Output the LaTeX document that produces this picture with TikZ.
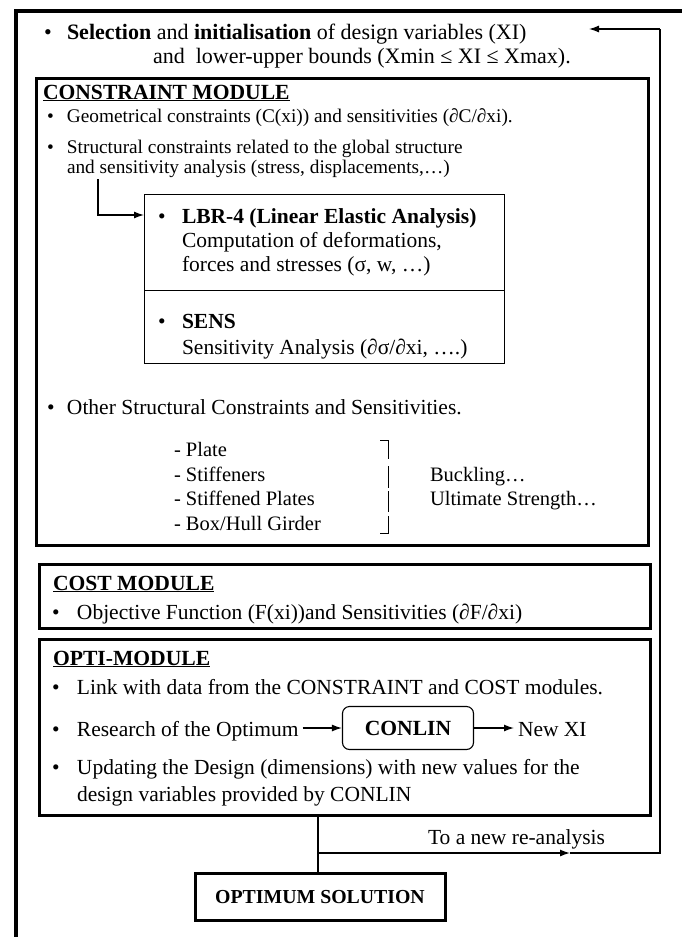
\documentclass[tikz,border=0pt]{standalone}
\usepackage{fontspec}
\setmainfont{Liberation Serif}
\usetikzlibrary{arrows.meta}
\newcommand{\bul}{\makebox[20pt][l]{\textbullet}}
\tikzset{
  txt/.style={anchor=base west, inner sep=0pt, outer sep=0pt},
  big/.style={font=\fontsize{21.5}{22}\selectfont},
  mid/.style={font=\fontsize{19.3}{20}\selectfont},
  lst/.style={font=\fontsize{20.5}{21}\selectfont},
  head/.style={font=\fontsize{21.6}{22}\selectfont\bfseries},
  modbox/.style={draw, line width=3pt, anchor=north west, inner sep=0pt},
  thinbox/.style={draw, line width=1.1pt, anchor=north west, inner sep=0pt},
  link/.style={line width=1.3pt},
  arr/.style={line width=1.3pt, -{Latex[length=10pt,width=7pt]}},
}
\begin{document}
\begin{tikzpicture}[x=1pt,y=-1pt]
\useasboundingbox (0,0) rectangle (682,937);

% outer frame: left rail and top rule
\draw[line width=4pt] (16,937) -- (16,11) -- (682,11);

% initial design step
\node[txt, font=\fontsize{22}{23}\selectfont] (sel1) at (44,39)
  {\makebox[23pt][l]{\textbullet}\textbf{Selection} and \textbf{initialisation} of design variables (XI)};
\node[txt, font=\fontsize{22}{23}\selectfont] (sel2) at (153,63)
  {and\ \ lower-upper bounds (Xmin ≤ XI ≤ Xmax).};

% constraint module
\node[modbox, minimum width=612pt, minimum height=467pt] (cons) at (35,77) {};
\node[txt, head] (consh) at (43,99) {\underline{CONSTRAINT MODULE}};
\node[txt, mid] (geo) at (47,122)
  {\bul Geometrical constraints (C(xi)) and sensitivities (∂C/∂xi).};
\node[txt, mid] (str1) at (47,153)
  {\bul Structural constraints related to the global structure};
\node[txt, mid] (str2) at (67,173)
  {and sensitivity analysis (stress, displacements,\dots)};

\node[thinbox, minimum width=360pt, minimum height=96pt] (lbr) at (144,194) {};
\node[thinbox, minimum width=360pt, minimum height=73pt] (sens) at (144,290) {};
\node[txt, big] (lbr1) at (158,223)
  {\makebox[24pt][l]{\textbullet}\textbf{LBR-4 (Linear Elastic Analysis)}};
\node[txt, big] (lbr2) at (182,247) {Computation of deformations,};
\node[txt, big] (lbr3) at (182,271) {forces and stresses (σ, w, \dots)};
\node[txt, big] (sens1) at (158,328)
  {\makebox[24pt][l]{\textbullet}\textbf{SENS}};
\node[txt, big] (sens2) at (182,354) {Sensitivity Analysis (∂σ/∂xi, \dots.)};

\coordinate (drop) at (98,179);
\coordinate (bend) at (98,215);
\draw[arr] (drop) -- (bend) -- (bend -| lbr.west);

\node[txt, big] (oth) at (47,414)
  {\bul Other Structural Constraints and Sensitivities.};
\node[txt, lst] (pl1) at (174,456) {- Plate};
\node[txt, lst] (pl2) at (174,481) {- Stiffeners};
\node[txt, lst] (pl3) at (174,505) {- Stiffened Plates};
\node[txt, lst] (pl4) at (174,530) {- Box/Hull Girder};
\node[txt, lst] (bk1) at (430,481) {Buckling\dots};
\node[txt, lst] (bk2) at (430,505) {Ultimate Strength\dots};
% bracket joining the element list
\draw[line width=1pt] (380,440) -- (388,440) -- (388,459);
\draw[line width=1pt] (388,466) -- (388,488);
\draw[line width=1pt] (388,491) -- (388,512);
\draw[line width=1pt] (388,516) -- (388,533) -- (380,533);

% cost module
\node[modbox, minimum width=611pt, minimum height=64pt] (cost) at (38,563) {};
\node[txt, head] (costh) at (53,590) {\underline{COST MODULE}};
\node[txt, big] (obj) at (52,619)
  {\makebox[25pt][l]{\textbullet}Objective Function (F(xi))and Sensitivities (∂F/∂xi)};

% optimisation module
\node[modbox, minimum width=611pt, minimum height=176pt] (opti) at (38,638) {};
\node[txt, head] (optih) at (53,665) {\underline{OPTI-MODULE}};
\node[txt, big] (lnk) at (52,694)
  {\makebox[25pt][l]{\textbullet}Link with data from the CONSTRAINT and COST modules.};
\node[txt, big] (res) at (52,736)
  {\makebox[25pt][l]{\textbullet}Research of the Optimum};
\node[draw, line width=1.1pt, rounded corners=7pt, minimum width=131pt, minimum height=43pt,
      inner sep=0pt, head] (conlin) at (408,728) {CONLIN};
\node[txt, big] (newxi) at (518,736) {New XI};
\draw[arr] ([xshift=4pt]res.east |- conlin.west) -- (conlin.west);
\draw[arr] (conlin.east) -- ([xshift=-4pt]newxi.west |- conlin.east);
\node[txt, big] (upd1) at (52,774)
  {\makebox[25pt][l]{\textbullet}Updating the Design (dimensions) with new values for the};
\node[txt, big] (upd2) at (77,801) {design variables provided by CONLIN};

% exit towards the optimum and loop back to a new analysis
\node[draw, line width=3pt, minimum width=250pt, minimum height=47pt, inner sep=0pt,
      font=\fontsize{19.8}{21}\selectfont\bfseries] (optsol) at (320,897) {OPTIMUM SOLUTION};
\coordinate (split) at (318,853);
\coordinate (mid) at (570,853);
\coordinate (rc) at (660,853);
\coordinate (tc) at (660,29);
\coordinate (entry) at (589,29);
\draw[link] (opti.south -| split) -- (optsol.north -| split);
\draw[arr] (split) -- (mid);
\draw[link] (mid) -- (rc) -- (tc);
\draw[arr] (tc) -- (entry);
\node[txt, big] (ret) at (428,844) {To a new re-analysis};
\end{tikzpicture}
\end{document}
